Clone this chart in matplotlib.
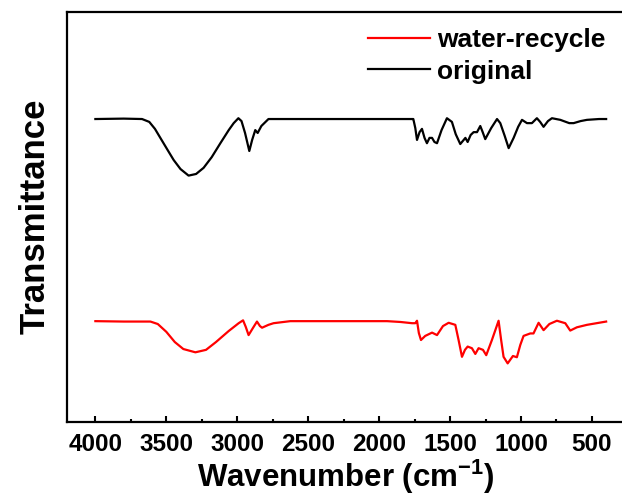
import numpy as np
import matplotlib
matplotlib.use('Agg')
import matplotlib.pyplot as plt
from matplotlib.ticker import MultipleLocator

# FTIR spectra (arbitrary transmittance units)
wn_orig = [4000, 3800, 3671, 3620, 3580, 3542, 3490, 3448, 3400, 3343, 3290, 3237,
           3180, 3119, 3060, 3025, 2992, 2970, 2945, 2915, 2895, 2873, 2856, 2830,
           2780, 2500, 2000, 1768, 1759, 1745, 1733, 1715, 1698, 1680, 1663, 1645,
           1627, 1610, 1592, 1560, 1522, 1487, 1460, 1428, 1392, 1376, 1355, 1334,
           1310, 1287, 1270, 1252, 1210, 1169, 1146, 1115, 1087, 1052, 1020, 993,
           958, 923, 888, 865, 841, 810, 782, 723, 660, 629, 580, 535, 450, 400]
t_orig = [73.9, 74.0, 73.9, 73.2, 71.5, 69.3, 66.3, 63.9, 61.7, 60.1, 60.5, 62.0,
          64.6, 68.0, 71.2, 72.9, 74.1, 73.4, 70.5, 66.1, 68.8, 71.2, 70.5, 72.2,
          73.9, 73.9, 73.9, 73.9, 73.9, 71.7, 68.8, 70.7, 71.5, 69.3, 68.0, 69.3,
          69.3, 68.3, 68.0, 71.2, 74.1, 73.2, 70.2, 67.8, 69.3, 68.3, 70.0, 70.7,
          70.7, 72.2, 70.7, 69.0, 71.7, 73.9, 72.9, 69.8, 66.8, 69.3, 72.0, 73.7,
          72.9, 72.9, 74.1, 73.2, 72.0, 73.4, 74.1, 73.7, 72.9, 72.9, 73.4, 73.7,
          73.9, 73.9]

wn_water = [4000, 3800, 3612, 3560, 3500, 3440, 3380, 3295, 3220, 3150, 3060, 2990,
            2959, 2940, 2920, 2890, 2861, 2840, 2825, 2780, 2744, 2626, 2300, 1944,
            1850, 1768, 1745, 1733, 1720, 1705, 1675, 1645, 1627, 1592, 1550, 1510,
            1463, 1440, 1416, 1395, 1376, 1346, 1322, 1299, 1268, 1245, 1205, 1158,
            1140, 1123, 1094, 1057, 1029, 1005, 982, 935, 912, 876, 841, 800, 747,
            688, 653, 606, 535, 400]
t_water = [24.6, 24.5, 24.5, 23.9, 22.0, 19.5, 17.8, 17.0, 17.6, 19.5, 22.2, 24.1,
           24.8, 23.2, 21.2, 22.9, 24.5, 23.4, 23.0, 23.7, 24.1, 24.6, 24.6, 24.6,
           24.4, 24.1, 24.1, 24.7, 21.7, 20.0, 21.0, 21.5, 21.8, 21.2, 23.4, 24.2,
           23.7, 20.0, 15.9, 17.6, 18.4, 18.0, 16.6, 18.0, 17.6, 16.3, 20.0, 24.7,
           20.0, 15.9, 14.3, 16.1, 15.8, 18.8, 21.0, 21.6, 21.6, 24.2, 22.4, 23.9,
           24.7, 24.1, 22.3, 23.1, 23.7, 24.5]

plt.rcParams['font.family'] = 'Liberation Sans'
plt.rcParams['font.weight'] = 'bold'
plt.rcParams['mathtext.fontset'] = 'custom'
plt.rcParams['mathtext.rm'] = 'Liberation Sans:bold'
plt.rcParams['mathtext.default'] = 'rm'

fig = plt.figure(figsize=(6.22, 4.99), dpi=100)
# axes runs past the right edge, as in the cropped original
ax = fig.add_axes([0.1077, 0.1543, 0.901, 0.8216])

ax.plot(wn_water, t_water, color='#ff0000', lw=1.6, label='water-recycle')
ax.plot(wn_orig, t_orig, color='black', lw=1.6, label='original')

ax.set_xlim(4200, 250)
ax.set_ylim(0, 100)
ax.set_yticks([])
ax.xaxis.set_major_locator(MultipleLocator(500))
ax.xaxis.set_minor_locator(MultipleLocator(250))
ax.tick_params(axis='x', which='major', direction='in', length=4.5, width=1.5,
               labelsize=17.5, pad=8)
ax.tick_params(axis='x', which='minor', direction='in', length=2.5, width=1.5)
for s in ax.spines.values():
    s.set_linewidth(1.6)

ax.set_xlabel(r'Wavenumber (cm$^{-1}$)', fontsize=22.5, fontweight='bold')
ax.xaxis.set_label_coords(0.498, -0.088)
ax.set_ylabel('Transmittance', fontsize=25, fontweight='bold')
ax.yaxis.set_label_coords(-0.027, 0.503)

fig.legend(loc='upper left', bbox_to_anchor=(0.5916, 0.944), frameon=False,
           fontsize=19, handlelength=2.35, handletextpad=0.27, labelspacing=0.29,
           borderpad=0, borderaxespad=0)

fig.savefig('out.png', dpi=100)
